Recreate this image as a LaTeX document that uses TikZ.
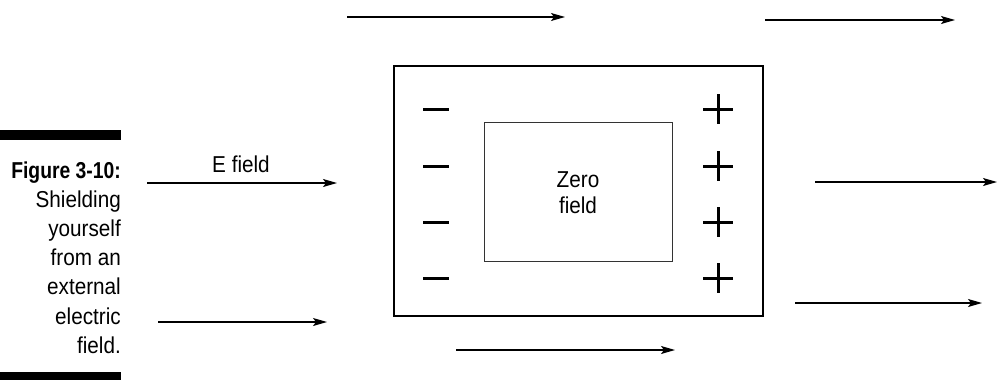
\documentclass[tikz,border=0pt]{standalone}
\usepackage{fontspec}
\setmainfont{Liberation Sans}[FakeStretch=0.9]
\newfontfamily\capbold{Liberation Sans Bold}[FakeStretch=0.84]
\usetikzlibrary{arrows.meta}
\begin{document}
\begin{tikzpicture}[x=1pt,y=-1pt,
  fieldarrow/.style={line width=1.3pt,-{Stealth[length=14pt,width=8pt,inset=3pt]}},
  outerbox/.style={draw,line width=1.2pt},
  innerbox/.style={draw,line width=1pt,draw=black!80},
  charge/.style={line width=3pt},
  captxt/.style={anchor=base east,inner sep=0pt,font=\fontsize{23}{29}\selectfont},
  lbl/.style={inner sep=0pt,font=\fontsize{23}{26}\selectfont},
  bar/.style={fill=black}]
\useasboundingbox (0,0) rectangle (998,380);
% caption bars
\fill[bar] (0,130) rectangle (121,140);
\fill[bar] (0,372) rectangle (121,380);
% caption
\node[captxt,font=\fontsize{23}{29}\capbold] (c0) at (121,178) {Figure 3-10:};
\node[captxt] (c1) at (121,207.2) {Shielding};
\node[captxt] (c2) at (121,236.4) {yourself};
\node[captxt] (c3) at (121,265.6) {from an};
\node[captxt] (c4) at (121,294.8) {external};
\node[captxt] (c5) at (121,324.0) {electric};
\node[captxt] (c6) at (121,353.2) {field.};
% boxes
\draw[outerbox] (394,66) rectangle (763,316);
\node[innerbox,minimum width=188pt,minimum height=139pt,inner sep=0pt] (inner) at (578,191.5) {};
\node[lbl,anchor=base] (zero1) at (578,187) {Zero};
\node[lbl,anchor=base] (zero2) at (578,213) {field};
% charges
\foreach \yy/\n in {109/1,166/2,222/3,278/4}{
  \draw[charge] (423,\yy) -- (449,\yy);
  \draw[charge] (703,\yy) -- (733,\yy);
  \draw[charge] (718,\yy-15) -- (718,\yy+15);
}
% arrows
\coordinate (a1s) at (347,17); \coordinate (a1e) at (565,17);
\coordinate (a2s) at (765,20); \coordinate (a2e) at (955,20);
\coordinate (a3s) at (147,183); \coordinate (a3e) at (337,183);
\coordinate (a4s) at (815,182); \coordinate (a4e) at (997,182);
\coordinate (a5s) at (158,322); \coordinate (a5e) at (327,322);
\coordinate (a6s) at (795,303); \coordinate (a6e) at (982,303);
\coordinate (a7s) at (456,350); \coordinate (a7e) at (675,350);
\foreach \i in {1,...,7}{\draw[fieldarrow] (a\i s) -- (a\i e);}
\node[lbl,anchor=base] (elabel) at (241,172) {E field};
\end{tikzpicture}
\end{document}
